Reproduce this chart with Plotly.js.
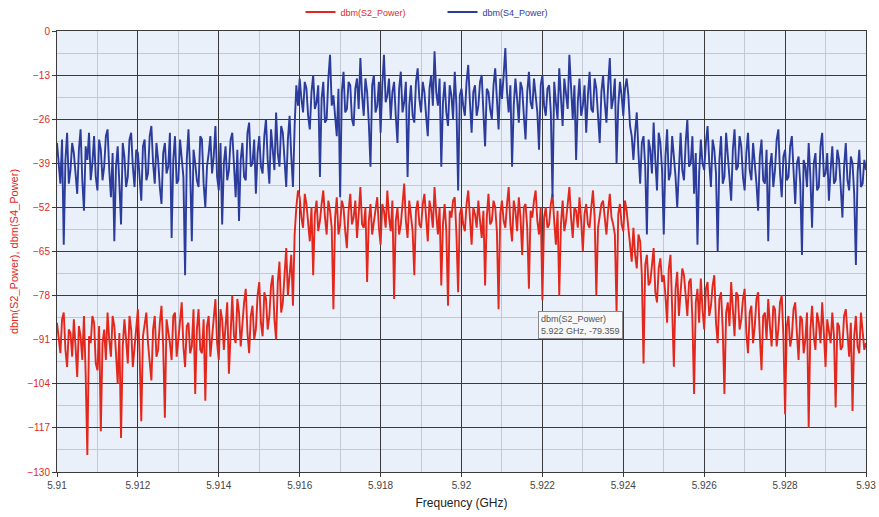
<!DOCTYPE html>
<html>
<head>
<meta charset="utf-8">
<script src="https://cdn.plot.ly/plotly-3.0.1.min.js"></script>
<style>html,body{margin:0;padding:0;background:#fff;}#chart{width:879px;height:517px;}</style>
</head>
<body>
<div id="chart"></div>
<script>
// Frequency grid (GHz): 481 samples from 5.910 to 5.930
const freqStart = 5.910;
const freqStop = 5.930;
const sampleCount = 481;

// dbm(S2_Power) values
const s2Power = [
-86,-91,-95,-85,-83,-94,-99,-88,-89,-96,-85,-93,-102,-87,-90,-97,-84,-101,-125,-90,-92,-84,-86,-98,
-100,-87,-118,-92,-88,-97,-83,-91,-96,-84,-87,-95,-104,-89,-120,-93,-85,-91,-98,-84,-88,-99,-93,-86,
-82,-95,-115,-90,-87,-83,-92,-98,-103,-88,-84,-96,-94,-86,-81,-93,-114,-85,-88,-92,-97,-84,-83,-96,
-91,-84,-80,-93,-99,-87,-86,-95,-93,-82,-107,-88,-82,-94,-95,-85,-109,-87,-84,-96,-90,-83,-79,-92,
-97,-82,-85,-94,-88,-80,-101,-87,-78,-90,-92,-79,-83,-93,-86,-80,-76,-89,-95,-84,-81,-91,-88,-78,
-74,-86,-90,-77,-79,-88,-84,-75,-72,-85,-91,-74,-68,-83,-80,-70,-64,-78,-72,-66,-81,-60,-52,-47,
-49,-55,-58,-48,-51,-57,-62,-52,-72,-54,-50,-59,-56,-51,-47,-55,-60,-50,-53,-58,-82,-55,-49,-60,
-57,-50,-52,-59,-64,-53,-48,-57,-55,-50,-61,-54,-46,-57,-58,-52,-74,-56,-51,-60,-56,-52,-49,-58,
-63,-51,-53,-58,-47,-55,-59,-50,-79,-56,-52,-60,-57,-51,-45,-56,-61,-50,-54,-59,-72,-53,-50,-57,
-58,-51,-48,-56,-62,-50,-53,-58,-46,-54,-60,-52,-75,-57,-51,-59,-81,-53,-55,-50,-49,-60,-77,-54,
-52,-57,-59,-51,-47,-55,-63,-52,-54,-58,-50,-56,-61,-53,-75,-55,-48,-57,-56,-50,-52,-59,-82,-54,
-50,-56,-58,-51,-46,-57,-62,-50,-53,-59,-49,-55,-66,-52,-51,-58,-76,-53,-55,-50,-47,-56,-60,-52,
-79.359,-55,-52,-58,-57,-51,-48,-56,-63,-53,-78,-57,-50,-59,-56,-51,-46,-55,-61,-52,-53,-58,-49,-56,
-65,-54,-51,-57,-58,-52,-47,-55,-78,-58,-54,-51,-50,-56,-60,-53,-48,-55,-57,-60,-83,-54,-51,-57,
-59,-50,-53,-58,-64,-68,-58,-66,-70,-60,-62,-72,-98,-69,-66,-75,-74,-68,-64,-77,-80,-70,-67,-74,
-72,-78,-86,-70,-66,-82,-99,-76,-71,-84,-78,-70,-72,-79,-84,-74,-73,-85,-107,-80,-76,-86,-73,-82,
-88,-76,-74,-84,-81,-75,-72,-86,-92,-79,-77,-88,-107,-83,-80,-87,-74,-82,-90,-77,-78,-88,-85,-79,
-76,-89,-95,-83,-81,-92,-87,-79,-77,-90,-100,-84,-83,-91,-79,-87,-93,-81,-82,-93,-88,-80,-78,-90,
-113,-87,-84,-93,-90,-82,-80,-89,-97,-84,-85,-95,-91,-83,-117,-88,-81,-90,-94,-83,-86,-92,-80,-89,
-99,-85,-88,-92,-83,-90,-111,-86,-87,-94,-93,-84,-82,-91,-96,-86,-112,-90,-84,-93,-95,-83,-89,-94,
-92
];

// dbm(S4_Power) values
const s4Power = [
-33,-40,-45,-32,-63,-38,-30,-45,-41,-33,-36,-42,-48,-35,-29,-44,-53,-34,-38,-30,-44,-39,-31,-43,
-47,-32,-35,-44,-40,-31,-29,-41,-49,-36,-62,-40,-34,-45,-57,-33,-37,-46,-43,-32,-30,-40,-46,-35,
-36,-43,-50,-34,-32,-44,-42,-31,-28,-39,-45,-33,-38,-46,-51,-36,-33,-42,-40,-30,-61,-38,-31,-45,
-44,-32,-37,-43,-72,-38,-29,-41,-62,-35,-39,-44,-46,-31,-32,-45,-52,-40,-36,-31,-42,-37,-28,-43,
-47,-33,-57,-39,-34,-44,-41,-32,-30,-42,-49,-35,-56,-38,-33,-43,-44,-30,-27,-40,-39,-32,-48,-36,
-31,-40,-42,-31,-26,-38,-45,-29,-35,-41,-24,-36,-40,-28,-30,-39,-46,-32,-25,-37,-46,-28,-16,-22,
-14,-20,-24,-15,-17,-25,-29,-18,-13,-23,-21,-16,-43,-20,-15,-27,-26,-14,-7,-22,-19,-25,-31,-17,
-49,-18,-12,-24,-23,-15,-16,-26,-28,-17,-14,-23,-8,-19,-25,-14,-18,-27,-40,-16,-13,-24,-22,-15,
-30,-16,-7,-21,-19,-14,-26,-18,-15,-25,-33,-17,-12,-24,-21,-15,-43,-22,-16,-25,-27,-15,-11,-20,
-24,-15,-18,-25,-31,-17,-13,-22,-6,-18,-22,-14,-40,-21,-15,-24,-28,-16,-19,-26,-12,-22,-47,-19,
-17,-22,-25,-15,-10,-21,-30,-18,-16,-25,-22,-15,-13,-24,-34,-17,-18,-23,-26,-16,-11,-20,-29,-14,
-20,-13,-5,-18,-24,-16,-40,-22,-14,-20,-27,-15,-17,-25,-32,-18,-12,-21,-23,-14,-19,-24,-35,-16,
-13,-22,-25,-17,-16,-24,-49,-15,-21,-26,-11,-19,-28,-14,-18,-23,-7,-17,-26,-16,-38,-21,-14,-25,
-22,-16,-30,-19,-12,-23,-24,-14,-17,-25,-33,-18,-13,-21,-27,-16,-8,-23,-20,-14,-39,-22,-15,-19,
-25,-17,-14,-19,-28,-31,-38,-30,-24,-36,-45,-33,-31,-40,-60,-32,-35,-42,-27,-38,-47,-30,-33,-41,
-60,-37,-29,-44,-42,-31,-36,-43,-52,-38,-30,-41,-44,-33,-26,-40,-39,-31,-48,-36,-63,-42,-32,-39,
-41,-33,-28,-39,-46,-32,-35,-42,-65,-38,-31,-45,-43,-30,-37,-44,-50,-35,-29,-41,-40,-31,-34,-43,
-47,-36,-30,-41,-44,-33,-38,-45,-53,-37,-32,-44,-45,-35,-62,-40,-36,-46,-41,-32,-29,-42,-49,-37,
-35,-44,-43,-34,-31,-42,-51,-39,-37,-45,-66,-38,-40,-46,-33,-43,-58,-39,-36,-47,-46,-34,-30,-43,
-42,-36,-50,-41,-34,-45,-44,-35,-38,-46,-55,-40,-33,-44,-47,-37,-39,-48,-69,-42,-35,-46,-45,-38,
-41
];

const xTicks = [5.91,5.912,5.914,5.916,5.918,5.92,5.922,5.924,5.926,5.928,5.93];
const xTickLabels = ["5.91","5.912","5.914","5.916","5.918","5.92","5.922","5.924","5.926","5.928","5.93"];
const yTicks = [0,-13,-26,-39,-52,-65,-78,-91,-104,-117,-130];

const freq = [];
for (let i = 0; i < sampleCount; i++) {
  freq.push(+(freqStart + (freqStop - freqStart) * i / (sampleCount - 1)).toFixed(7));
}

const RED = '#e2281d';
const BLUE = '#2c3c9c';

const traces = [
  {x: freq, y: s2Power, type: 'scatter', mode: 'lines',
   name: '<span style="color:' + RED + '">dbm(S2_Power)</span>',
   line: {color: RED, width: 1.9}},
  {x: freq, y: s4Power, type: 'scatter', mode: 'lines',
   name: '<span style="color:' + BLUE + '">dbm(S4_Power)</span>',
   line: {color: BLUE, width: 1.9}}
];

const layout = {
  width: 879, height: 517,
  margin: {l: 57, r: 13, t: 31, b: 45, autoexpand: false},
  paper_bgcolor: '#ffffff',
  plot_bgcolor: '#eaf0f9',
  font: {family: 'Liberation Sans, Arial, sans-serif', size: 10, color: '#333'},
  showlegend: true,
  legend: {orientation: 'h', x: 0.301, xanchor: 'left', y: 1.043, yanchor: 'middle',
           font: {size: 9}, bgcolor: 'rgba(0,0,0,0)', itemwidth: 30, tracegroupgap: 0,
           entrywidth: 97, entrywidthmode: 'pixels'},
  xaxis: {
    range: [5.91, 5.93], tickvals: xTicks, ticktext: xTickLabels,
    showgrid: true, gridcolor: '#3a3a3a', gridwidth: 1,
    showline: true, linecolor: '#3a3a3a', mirror: true,
    ticks: 'outside', ticklen: 4, tickcolor: '#3a3a3a',
    tickfont: {size: 10, color: '#444'},
    minor: {dtick: 0.001, showgrid: true, gridcolor: '#c2c8d4', ticks: ''},
    zeroline: false,
    title: {text: 'Frequency (GHz)', font: {size: 12, color: '#222'}, standoff: 8}
  },
  yaxis: {
    range: [-130, 0], tickvals: yTicks,
    showgrid: true, gridcolor: '#3a3a3a', gridwidth: 1,
    showline: true, linecolor: '#3a3a3a', mirror: true,
    ticks: 'outside', ticklen: 4, tickcolor: '#3a3a3a',
    tickfont: {size: 10, color: RED},
    minor: {dtick: 6.5, showgrid: true, gridcolor: '#c2c8d4', ticks: ''},
    zeroline: false,
    title: {text: 'dbm(S2_Power), dbm(S4_Power)', font: {size: 11, color: RED}, standoff: 6}
  },
  annotations: [{
    xref: 'paper', yref: 'paper', x: 0.594, y: 0.364, xanchor: 'left', yanchor: 'top',
    text: 'dbm(S2_Power)<br>5.922 GHz, -79.359', align: 'left', showarrow: false,
    font: {size: 9, color: '#555'}, bgcolor: '#f6f7f9', bordercolor: '#8a8a8a', borderwidth: 1, borderpad: 2
  }]
};

Plotly.newPlot('chart', traces, layout, {displayModeBar: false, staticPlot: true});
</script>
</body>
</html>
